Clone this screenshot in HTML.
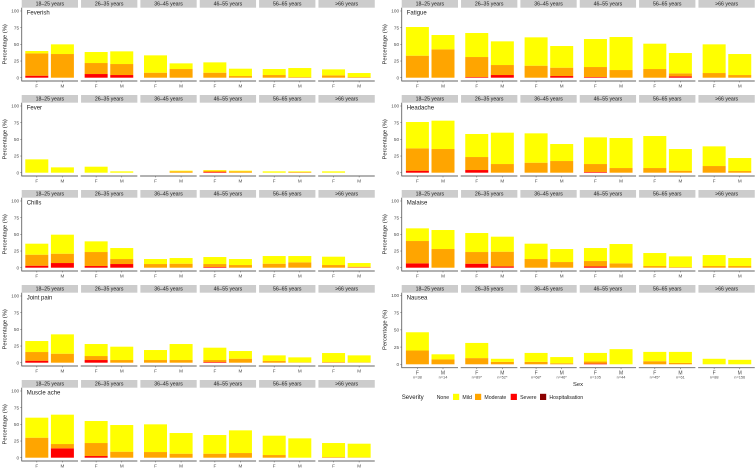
<!DOCTYPE html>
<html lang="en">
<head>
<meta charset="utf-8">
<title>Symptom severity by age group and sex</title>
<style>
  html, body { margin: 0; padding: 0; background: #fff; }
  #chart { display: block; width: 755px; height: 468px; font-family: "Liberation Sans", sans-serif; }
</style>
</head>
<body>
<svg id="chart" xmlns="http://www.w3.org/2000/svg" width="755" height="468" viewBox="0 0 755 468"></svg>
<script>
// Categories
const ageGroups = ["18–25 years", "26–35 years", "36–45 years", "46–55 years", "56–65 years", ">66 years"];
const sexes = ["F", "M"];
const yTicks = [0, 25, 50, 75, 100];
const sampleSizes = ["n=38", "n=14", "n=89*", "n=52*", "n=68*", "n=46*", "n=105", "n=44", "n=45*", "n=61", "n=88", "n=156"];
const legendLabels = ["Mild", "Moderate", "Severe", "Hospitalisation"];

// Series values: percentages, ordered F, M for each age group
const feverishSevere = [3, 0, 5.5, 4, 0, 0, 0, 0, 0, 0, 0, 0];
const feverishModerate = [33.5, 35.5, 16.5, 16.5, 7.5, 13, 7.5, 2.5, 4, 1, 3.5, 1];
const feverishMild = [3.5, 14.5, 16.5, 19, 26, 8.5, 15.5, 11, 9, 13.5, 9, 6];

const feverSevere = [0, 0, 0, 0, 0, 0, 1, 0, 0, 0, 0, 0];
const feverModerate = [0, 0, 0, 0, 0, 2, 2, 2, 0, 1, 0, 0];
const feverMild = [20, 8, 9, 2, 0, 1, 1, 1, 2, 1, 2, 0];

const chillsSevere = [3, 7, 2.5, 5.5, 0, 0, 1, 0, 0, 0, 0, 0.5];
const chillsModerate = [16.5, 14, 21, 7.5, 5.5, 6, 4.5, 4, 6, 8, 4, 1];
const chillsMild = [16.5, 28.5, 16, 16.5, 7.5, 8.5, 10.5, 9, 11.5, 9.5, 12.5, 5.5];

const jointPainSevere = [3, 0, 4, 0, 0, 0, 1, 0, 0, 0, 0, 0];
const jointPainModerate = [13, 13.5, 6, 4, 4, 4, 3, 6, 2.5, 0.5, 1, 0.5];
const jointPainMild = [16.5, 29, 18, 20, 15, 24, 18.5, 11.5, 8.5, 7.5, 13.5, 10.5];

const muscleAcheSevere = [0, 14, 2.5, 0, 0, 0, 0, 0, 0, 0, 0, 0];
const muscleAcheModerate = [30, 6.5, 19.5, 9, 8.5, 6, 6, 7, 4, 0, 1, 0.5];
const muscleAcheMild = [30, 44, 33, 40, 41.5, 31, 28, 34, 29, 29, 21, 20.5];

const fatigueSevere = [0, 0, 1, 4, 0, 2.5, 1, 0, 0, 2, 0, 0];
const fatigueModerate = [33, 42.5, 30, 15, 18, 12.5, 15, 11.5, 13, 4.5, 7, 4];
const fatigueMild = [43, 21.5, 36, 35.5, 42.5, 32.5, 42, 49.5, 38, 30.5, 43, 31.5];

const headacheSevere = [3, 0, 4, 0, 0, 0, 1, 0, 0, 0, 0, 0];
const headacheModerate = [33.5, 35.5, 19.5, 13, 15, 17.5, 12, 7, 7, 3, 10, 2.5];
const headacheMild = [39.5, 42.5, 34.5, 47, 44, 25.5, 40, 45, 48, 32.5, 29.5, 19.5];

const malaiseSevere = [6.5, 0, 6, 2, 0, 0, 2, 0, 0, 0, 0, 0];
const malaiseModerate = [33.5, 28, 17.5, 22, 13, 8.5, 8, 6.5, 2.5, 1, 2.5, 2.5];
const malaiseMild = [19, 28.5, 28.5, 22.5, 23, 19.5, 19.5, 29, 19.5, 16, 16.5, 12];

const nauseaSevere = [0, 0, 0, 0, 0, 0, 1, 0, 0, 0, 0, 0];
const nauseaModerate = [20, 7, 9, 3.5, 3.5, 1.5, 3, 0, 4.5, 2, 0, 0];
const nauseaMild = [26.5, 7.5, 22, 4.5, 13, 9, 12.5, 22, 13.5, 16, 8, 6.5];

const severityColors = { severe: "#ff0000", moderate: "#ffa500", mild: "#ffff00", hospitalisation: "#8b0000" };

// Layout
const panels = [
  { title: "Feverish", slug: "feverish", col: 0, row: 0, severe: feverishSevere, moderate: feverishModerate, mild: feverishMild },
  { title: "Fever", slug: "fever", col: 0, row: 1, severe: feverSevere, moderate: feverModerate, mild: feverMild },
  { title: "Chills", slug: "chills", col: 0, row: 2, severe: chillsSevere, moderate: chillsModerate, mild: chillsMild },
  { title: "Joint pain", slug: "joint-pain", col: 0, row: 3, severe: jointPainSevere, moderate: jointPainModerate, mild: jointPainMild },
  { title: "Muscle ache", slug: "muscle-ache", col: 0, row: 4, severe: muscleAcheSevere, moderate: muscleAcheModerate, mild: muscleAcheMild },
  { title: "Fatigue", slug: "fatigue", col: 1, row: 0, severe: fatigueSevere, moderate: fatigueModerate, mild: fatigueMild },
  { title: "Headache", slug: "headache", col: 1, row: 1, severe: headacheSevere, moderate: headacheModerate, mild: headacheMild },
  { title: "Malaise", slug: "malaise", col: 1, row: 2, severe: malaiseSevere, moderate: malaiseModerate, mild: malaiseMild },
  { title: "Nausea", slug: "nausea", col: 1, row: 3, severe: nauseaSevere, moderate: nauseaModerate, mild: nauseaMild, tall: true }
];

const NS = "http://www.w3.org/2000/svg";
const svg = document.getElementById("chart");
const AXIS = "#666666";
const TICKTEXT = "#4d4d4d";

function make(parent, tag, attrs, text) {
  const el = document.createElementNS(NS, tag);
  for (const k in attrs) el.setAttribute(k, attrs[k]);
  if (text !== undefined) el.textContent = text;
  parent.appendChild(el);
  return el;
}

function facetLeft(col, age) {
  return (col === 0 ? 21.7 : 401.7) + 59.35 * age;
}
function barLeft(col, age, sex) {
  return facetLeft(col, age) + (col === 0 ? 3.6 : 4.2) + sex * 25.6;
}
const BAR_W = 23;
const FACET_W = 56.3;

function yScale(panel) {
  const top = panel.row * 95;
  const y0 = panel.tall ? 364.3 : top + 77.7;
  const y100 = panel.tall ? 295.4 : top + 11;
  return function (v) { return y0 - (v / 100) * (y0 - y100); };
}

panels.forEach(function (p) {
  const top = p.row * 95;
  const y = yScale(p);
  const axisY = p.tall ? 367.7 : top + 81;
  const left = facetLeft(p.col, 0);

  const g = make(svg, "g", {});
  
  

  ageGroups.forEach(function (age, a) {
    const fx = facetLeft(p.col, a);
    const strip = make(g, "rect", { x: fx, y: top, width: FACET_W, height: 7.7, fill: "#cccccc" });
    
    
    const stripText = make(g, "text", { x: fx + FACET_W / 2, y: top + 5.7, "font-size": 5.2, "text-anchor": "middle", fill: "#1a1a1a" }, age);
    
    

    sexes.forEach(function (sex, s) {
      const i = a * 2 + s;
      const bx = barLeft(p.col, a, s);
      let base = 0;
      ["severe", "moderate", "mild"].forEach(function (level) {
        const v = p[level][i];
        if (v > 0) {
          const bar = make(g, "rect", { x: bx, y: y(base + v), width: BAR_W, height: y(base) - y(base + v), fill: severityColors[level] });
          
          
        }
        base += v;
      });
      const cx = bx + BAR_W / 2;
      const tick = make(g, "line", { x1: cx, x2: cx, y1: axisY, y2: axisY + 1.4, stroke: AXIS, "stroke-width": 0.6 });
      
      
      const sexLabel = make(g, "text", { x: cx, y: axisY + 6.7, "font-size": p.tall ? 5 : 4.6, "text-anchor": "middle", fill: TICKTEXT }, sex);
      
      
      if (p.tall) {
        const nLabel = make(g, "text", { x: cx, y: axisY + 11, "font-size": 3.9, "text-anchor": "middle", fill: TICKTEXT }, sampleSizes[i]);
        
        
      }
    });

    const xAxis = make(g, "line", { x1: fx - 0.3, x2: fx + FACET_W, y1: axisY, y2: axisY, stroke: AXIS, "stroke-width": 0.9 });
    
    
  });

  const yAxis = make(g, "line", { x1: left, x2: left, y1: top + 7.7, y2: axisY, stroke: AXIS, "stroke-width": 0.9 });
  
  

  yTicks.forEach(function (t) {
    const tick = make(g, "line", { x1: left - 1.4, x2: left, y1: y(t), y2: y(t), stroke: AXIS, "stroke-width": 0.6 });
    
    
    const label = make(g, "text", { x: left - 2.6, y: y(t) + 1.7, "font-size": 4.7, "text-anchor": "end", fill: TICKTEXT }, String(t));
    
    
  });

  const titleY = (y(0) + y(100)) / 2;
  const titleX = left - 15.2;
  const yTitle = make(g, "text", { x: titleX, y: titleY, "font-size": 5.8, "text-anchor": "middle", fill: "#1a1a1a", transform: "rotate(-90 " + titleX + " " + titleY + ")" }, "Percentage (%)");
  
  

  const panelTitle = make(g, "text", { x: left + 5, y: top + 14.6, "font-size": 6, fill: "#1a1a1a" }, p.title);
  
  
});

// Shared x-axis title
const sexTitle = make(svg, "text", { x: 578, y: 386, "font-size": 5.8, "text-anchor": "middle", fill: "#1a1a1a" }, "Sex");



// Legend
const legend = make(svg, "g", {});



const legendTitle = make(legend, "text", { x: 401.7, y: 399, "font-size": 6.1, fill: "#1a1a1a" }, "Severity");



const noneLabel = make(legend, "text", { x: 436.7, y: 398.8, "font-size": 5.2, fill: "#1a1a1a" }, "None");



const legendColors = [severityColors.mild, severityColors.moderate, severityColors.severe, severityColors.hospitalisation];
const legendStarts = [453, 475, 510.7, 540];
legendLabels.forEach(function (label, i) {
  const swatch = make(legend, "rect", { x: legendStarts[i], y: 393.8, width: 6.2, height: 6.2, fill: legendColors[i] });
  
  
  const text = make(legend, "text", { x: legendStarts[i] + 9.4, y: 398.8, "font-size": 5.2, fill: "#1a1a1a" }, label);
  
  
});
</script>
</body>
</html>
